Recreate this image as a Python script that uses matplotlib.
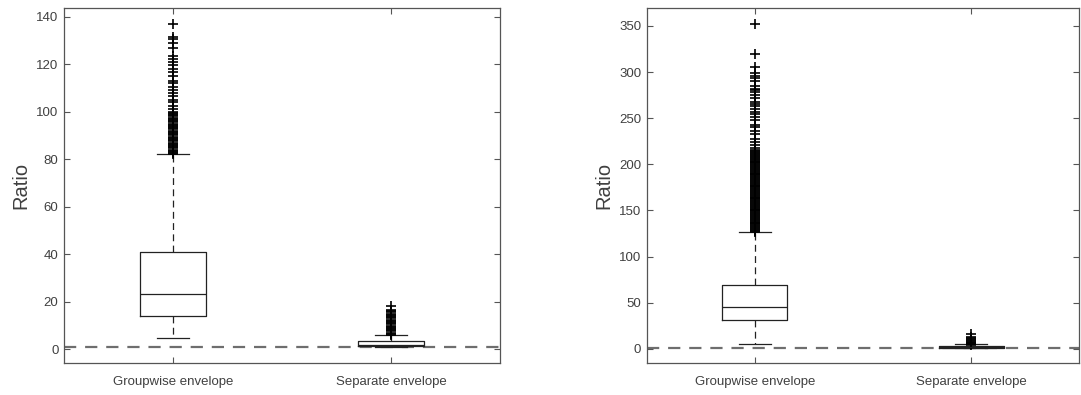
import numpy as np
import matplotlib.pyplot as plt

# categories
labels = ['Groupwise envelope', 'Separate envelope']

# left panel box stats
left_q1 = [14.0, 1.4]
left_med = [23.2, 2.0]
left_q3 = [41.0, 3.3]
left_lo = [4.6, 1.0]
left_hi = [82.0, 5.8]
left_fl_group = [82, 82.5, 83, 83.5, 84, 84.5, 85, 85.5, 86, 86.5, 87, 87.5, 88, 88.5,
                 89, 89.5, 90, 90.5, 91, 91.5, 92, 92.5, 93, 93.5, 94, 94.5, 95, 95.5,
                 96, 96.5, 97, 97.5, 98, 98.5, 99, 99.5, 100, 101, 102.5, 104, 105, 106.5,
                 108, 109, 110.5, 112, 113, 115, 116.5, 118, 119.5, 121, 122, 123.5,
                 127, 129, 130.5, 131.5, 137]
left_fl_sep = [6, 6.5, 7, 7.5, 8, 8.5, 9, 9.5, 10, 10.5, 11, 11.5, 12, 12.5, 13, 13.5,
               14, 14.5, 15, 15.5, 16, 16.5, 18.3]

# right panel box stats
right_q1 = [31.0, 1.2]
right_med = [45.5, 1.8]
right_q3 = [69.3, 2.8]
right_lo = [5.8, 0.8]
right_hi = [127.0, 5.0]
right_fl_group = [127, 128, 129, 130, 131, 132, 133, 134, 135, 136, 137, 138, 139, 140, 141,
                  142, 143, 144, 145, 146, 147, 148, 149, 150, 151, 152, 153, 154, 155, 156,
                  157, 158, 159, 160, 161, 162, 163, 164, 165, 166, 167, 168, 169, 170, 171,
                  172, 173, 174, 175, 176, 177, 178, 179, 180, 181, 182, 183, 184, 185, 186,
                  187, 188, 189, 190, 191, 192, 193, 194, 195, 196, 197, 198, 199, 200, 201,
                  202, 203, 204, 205, 206, 207, 208, 209, 210, 211, 212, 213, 214, 215,
                  218, 221, 224, 227, 233, 236, 240, 243, 248, 251, 254,
                  257, 260, 263, 265, 267, 272, 275, 278, 280, 282, 285, 290, 293, 296,
                  299, 305, 320, 352]
right_fl_sep = [4, 5, 6, 7, 8, 9, 10, 11, 12, 13, 16.5]

ref_value = 1.0


def make_stats(q1, med, q3, lo, hi, fliers):
    stats = []
    for i in range(len(q1)):
        stats.append(dict(q1=q1[i], med=med[i], q3=q3[i], whislo=lo[i], whishi=hi[i],
                          fliers=fliers[i], label=labels[i]))
    return stats


plt.rcParams['font.family'] = ['Liberation Sans', 'DejaVu Sans']
txt = '#404040'
edge = '#555555'

fig = plt.figure(figsize=(10.81, 3.95), dpi=100)
ax1 = fig.add_axes([64 / 1081, 31.7 / 395, 436 / 1081, 355 / 395])
ax2 = fig.add_axes([646.7 / 1081, 31.7 / 395, 432.5 / 1081, 355 / 395])

panels = [
    (ax1, make_stats(left_q1, left_med, left_q3, left_lo, left_hi, [left_fl_group, left_fl_sep]),
     (-5.9, 143.5), np.arange(0, 141, 20)),
    (ax2, make_stats(right_q1, right_med, right_q3, right_lo, right_hi, [right_fl_group, right_fl_sep]),
     (-15.5, 369), np.arange(0, 351, 50)),
]

for ax, stats, ylim, yt in panels:
    ax.axhline(ref_value, color='#6e6e6e', lw=1.6, ls=(0, (5.5, 4)), zorder=1)
    ax.bxp(stats, positions=[1, 2], widths=0.3, capwidths=0.15,
           boxprops=dict(color='#222222', lw=0.9),
           medianprops=dict(color='#222222', lw=0.9),
           whiskerprops=dict(color='#222222', lw=0.9, ls=(0, (5.5, 3.5))),
           capprops=dict(color='#222222', lw=0.9),
           flierprops=dict(marker='+', markersize=6.5, markeredgecolor='black',
                           markeredgewidth=1.2, linestyle='none'),
           zorder=2)
    ax.set_xlim(0.5, 2.5)
    ax.set_ylim(*ylim)
    ax.set_yticks(yt)
    ax.set_xticks([1, 2])
    ax.set_xticklabels(labels, fontsize=9.5, color=txt)
    ax.tick_params(axis='y', direction='in', left=True, right=True, length=4,
                   color=edge, labelsize=9.5, labelcolor=txt, pad=4)
    ax.tick_params(axis='x', direction='in', bottom=True, top=True, length=4,
                   color=edge, pad=9)
    for s in ax.spines.values():
        s.set_color(edge)
        s.set_linewidth(0.9)
    ax.set_ylabel('Ratio', fontsize=14.5, color=txt, labelpad=4)

fig.savefig('out.png', dpi=100)
